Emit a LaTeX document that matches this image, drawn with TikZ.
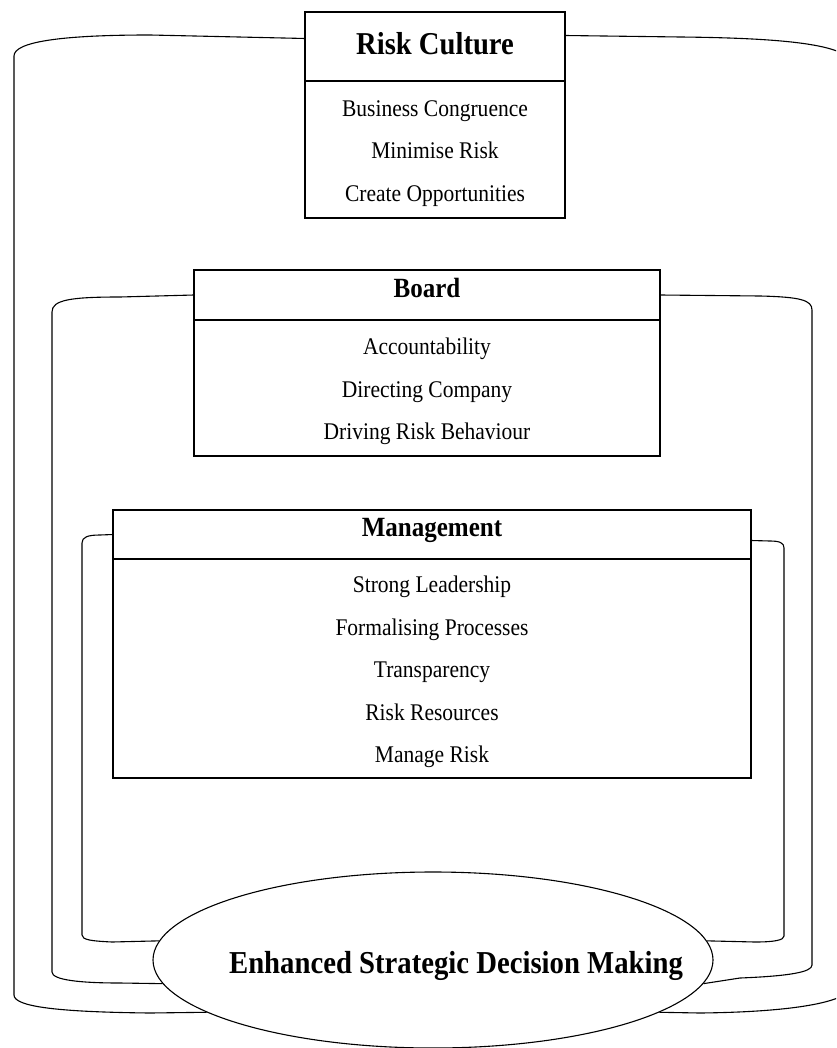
\documentclass[tikz,border=0pt]{standalone}
\usepackage{fontspec}
\setmainfont{Liberation Serif}[FakeStretch=0.9]
\usetikzlibrary{positioning, shapes.geometric}

\newcommand{\topgap}{\rule{0pt}{23.5pt}}

\tikzset{
  headbox/.style={draw, line width=1.2pt, outer sep=0pt, inner sep=0pt, text depth=14pt,
    font=\bfseries\fontsize{27.8}{30}\selectfont},
  itembox/.style={draw, line width=1.2pt, outer sep=0pt, inner sep=0pt,
    align=center, font=\fontsize{23.9}{42.5}\selectfont},
  rim/.style={line width=1.1pt},
}

\begin{document}
\begin{tikzpicture}[x=1pt, y=-1pt]
    \clip (0,0) rectangle (836,1048);
    % the three levels
    \node[headbox, minimum width=260, minimum height=69, text depth=6pt,
      font=\bfseries\fontsize{31.8}{34}\selectfont] (rc) at (435,46.5) {Risk Culture};
    \node[itembox, minimum width=260, minimum height=137, below=0pt of rc] (rcitems)
      {\topgap Business Congruence\\Minimise Risk\\Create Opportunities};
    \node[headbox, minimum width=466, minimum height=50] (bd) at (427,295) {Board};
    \node[itembox, minimum width=466, minimum height=136, below=0pt of bd] (bditems)
      {\topgap Accountability\\Directing Company\\Driving Risk Behaviour};
    \node[headbox, minimum width=638, minimum height=49] (mg) at (432,534.5) {Management};
    \node[itembox, minimum width=638, minimum height=219, below=0pt of mg] (mgitems)
      {\topgap Strong Leadership\\Formalising Processes\\Transparency\\Risk Resources\\Manage Risk};
    \node[ellipse, draw, line width=1.1pt, inner sep=0pt, minimum width=560, minimum height=176,
      label={[font=\bfseries\fontsize{31.9}{34}\selectfont, xshift=23pt, yshift=-6pt]center:Enhanced Strategic Decision Making}]
      (esdm) at (433,960) {};
    % brackets down to the ellipse
    \draw[rim] ([yshift=8pt]rc.west) -- (150,35) .. controls (60,35) and (14,42) .. (14,56)
      -- (14,995) .. controls (14,1007) and (60,1012) .. (150,1013) -- (esdm.193);
    \draw[rim] ([yshift=11pt]rc.east) -- (680,37) .. controls (780,38) and (840,44) .. (850,60)
      -- (850,990) .. controls (840,1003) and (790,1012) .. (700,1013) -- (esdm.347);
    \draw[rim] (bd.west) -- (120,297) .. controls (70,297) and (52,300) .. (52,312)
      -- (52,972) .. controls (52,980) and (80,983) .. (120,983) -- (esdm.185);
    \draw[rim] (bd.east) -- (760,296) .. controls (800,297) and (812,300) .. (812,310)
      -- (812,965) .. controls (812,972) and (790,976) .. (740,978) -- (esdm.355);
    \draw[rim] (mg.west) -- (100,535) .. controls (88,535) and (82,537) .. (82,543)
      -- (82,935) .. controls (82,940) and (92,941) .. (112,942) -- (esdm.176);
    \draw[rim] ([yshift=-6pt]mg.east) -- (770,541) .. controls (780,541) and (784,543) .. (784,548)
      -- (784,936) .. controls (784,940) and (775,942) .. (755,942) -- (esdm.4);
\end{tikzpicture}
\end{document}
